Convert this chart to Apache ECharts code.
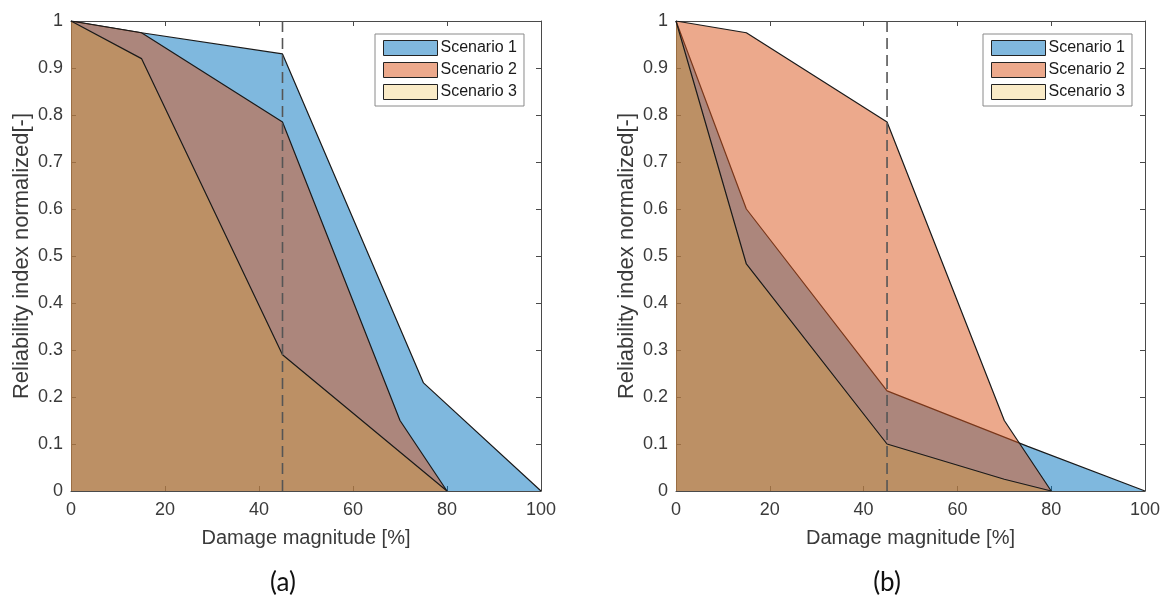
<!DOCTYPE html>
<html>
<head>
<meta charset="utf-8">
<script src="https://cdn.jsdelivr.net/npm/echarts@6/dist/echarts.min.js"></script>
<style>
  html, body { margin: 0; padding: 0; background: #fff; }
  #chart { width: 1164px; height: 608px; }
</style>
</head>
<body>
<div id="chart"></div>
<script>
// Damage magnitude [%] vs normalized reliability index, two cases (a) and (b)
const scenarioNames = ['Scenario 1', 'Scenario 2', 'Scenario 3'];

// Case (a)
const xA1 = [0, 15, 45, 75, 100];
const yA1 = [1, 0.975, 0.93, 0.23, 0];
const xA2 = [0, 15, 45, 70, 80];
const yA2 = [1, 0.975, 0.785, 0.15, 0];
const xA3 = [0, 15, 45, 80];
const yA3 = [1, 0.92, 0.29, 0];

// Case (b)
const xB1 = [0, 15, 45, 75, 100];
const yB1 = [1, 0.6, 0.213, 0.095, 0];
const xB2 = [0, 15, 45, 70, 80];
const yB2 = [1, 0.975, 0.785, 0.15, 0];
const xB3 = [0, 15, 45, 70, 80];
const yB3 = [1, 0.483, 0.1, 0.025, 0];

// Reference damage level marked by the dashed line
const refDamage = 45;

const xTicks = { min: 0, max: 100, interval: 20 };
const yTicks = { min: 0, max: 1, interval: 0.1 };

const baseColors = ['#0072BD', '#D95319', '#EDB120'];
const fillAlpha = [0.5, 0.5, 0.25];
const swatchColors = ['#80B8DE', '#ECA98C', '#FAEBC7'];

const pairs = (xs, ys) => xs.map((x, i) => [x, ys[i]]);

const textColor = '#3a3a3a';
const axisColor = '#4a4a4a';
const font = '"Liberation Sans", Arial, sans-serif';

const grids = [
  { left: 71, top: 21, width: 470, height: 470 },
  { left: 676, top: 21, width: 469, height: 470 }
];

const axisLineStyle = { show: true, onZero: false, lineStyle: { color: axisColor, width: 1 } };
const tickStyle = { show: true, inside: true, length: 5, lineStyle: { color: axisColor } };

function xAxes(g) {
  return [
    {
      type: 'value', gridIndex: g, position: 'bottom', ...xTicks,
      name: 'Damage magnitude [%]', nameLocation: 'middle', nameGap: 37,
      nameTextStyle: { color: textColor, fontSize: 20, fontFamily: font },
      axisLine: axisLineStyle,
      axisTick: tickStyle,
      axisLabel: { color: textColor, fontSize: 18, fontFamily: font, margin: 10 },
      splitLine: { show: false }
    },
    {
      type: 'value', gridIndex: g, position: 'top', ...xTicks,
      axisLine: axisLineStyle,
      axisTick: tickStyle,
      axisLabel: { show: false },
      splitLine: { show: false }
    }
  ];
}

function yAxes(g) {
  return [
    {
      type: 'value', gridIndex: g, position: 'left', ...yTicks,
      name: 'Reliability index normalized[-]', nameLocation: 'middle', nameGap: 38,
      nameRotate: 90,
      nameTextStyle: { color: textColor, fontSize: 22, fontFamily: font },
      axisLine: axisLineStyle,
      axisTick: tickStyle,
      axisLabel: { color: textColor, fontSize: 18, fontFamily: font, margin: 8 },
      splitLine: { show: false }
    },
    {
      type: 'value', gridIndex: g, position: 'right', ...yTicks,
      axisLine: axisLineStyle,
      axisTick: tickStyle,
      axisLabel: { show: false },
      splitLine: { show: false }
    }
  ];
}

function areaSeries(name, idx, data, g) {
  return {
    name: name,
    type: 'line',
    xAxisIndex: g * 2,
    yAxisIndex: g * 2,
    data: data,
    symbol: 'none',
    showSymbol: false,
    silent: true,
    itemStyle: { color: swatchColors[idx] },
    lineStyle: { color: '#1a1a1a', width: 1.2 },
    areaStyle: { color: baseColors[idx], opacity: fillAlpha[idx], origin: 0 },
    z: 2 + idx
  };
}

function refLine(g) {
  return {
    type: 'line',
    xAxisIndex: g * 2,
    yAxisIndex: g * 2,
    data: [[refDamage, 0], [refDamage, 1]],
    symbol: 'none',
    silent: true,
    lineStyle: { color: '#555', width: 1.6, type: [11, 6] },
    z: 10
  };
}

function legendFor(left) {
  return {
    left: left, top: 34,
    orient: 'vertical',
    icon: 'rect',
    itemWidth: 54, itemHeight: 15, itemGap: 6,
    padding: [6, 7, 6, 8],
    backgroundColor: '#fff',
    borderColor: '#8a8a8a', borderWidth: 1, borderRadius: 0,
    selectedMode: false,
    textStyle: { color: '#1a1a1a', fontSize: 16, fontFamily: font, padding: [0, 0, 0, -2] },
    data: scenarioNames.map((n, i) => ({
      name: n,
      itemStyle: { color: swatchColors[i], borderColor: '#222', borderWidth: 1 }
    }))
  };
}

const series = [
  areaSeries(scenarioNames[0], 0, pairs(xA1, yA1), 0),
  areaSeries(scenarioNames[1], 1, pairs(xA2, yA2), 0),
  areaSeries(scenarioNames[2], 2, pairs(xA3, yA3), 0),
  refLine(0),
  areaSeries(scenarioNames[0], 0, pairs(xB1, yB1), 1),
  areaSeries(scenarioNames[1], 1, pairs(xB2, yB2), 1),
  areaSeries(scenarioNames[2], 2, pairs(xB3, yB3), 1),
  refLine(1)
];

const chart = echarts.init(document.getElementById('chart'), null, { renderer: 'canvas' });
chart.setOption({
  animation: false,
  backgroundColor: '#fff',
  grid: grids,
  xAxis: [...xAxes(0), ...xAxes(1)],
  yAxis: [...yAxes(0), ...yAxes(1)],
  legend: [legendFor(375), legendFor(983)],
  series: series,
  graphic: [
    { type: 'text', x: 283, y: 583,
      style: { text: '(a)', fontSize: 26, fontFamily: 'Lato, "Open Sans", sans-serif', fill: '#111',
               textAlign: 'center', textVerticalAlign: 'middle' } },
    { type: 'text', x: 887, y: 583,
      style: { text: '(b)', fontSize: 26, fontFamily: 'Lato, "Open Sans", sans-serif', fill: '#111',
               textAlign: 'center', textVerticalAlign: 'middle' } }
  ]
});
</script>
</body>
</html>
